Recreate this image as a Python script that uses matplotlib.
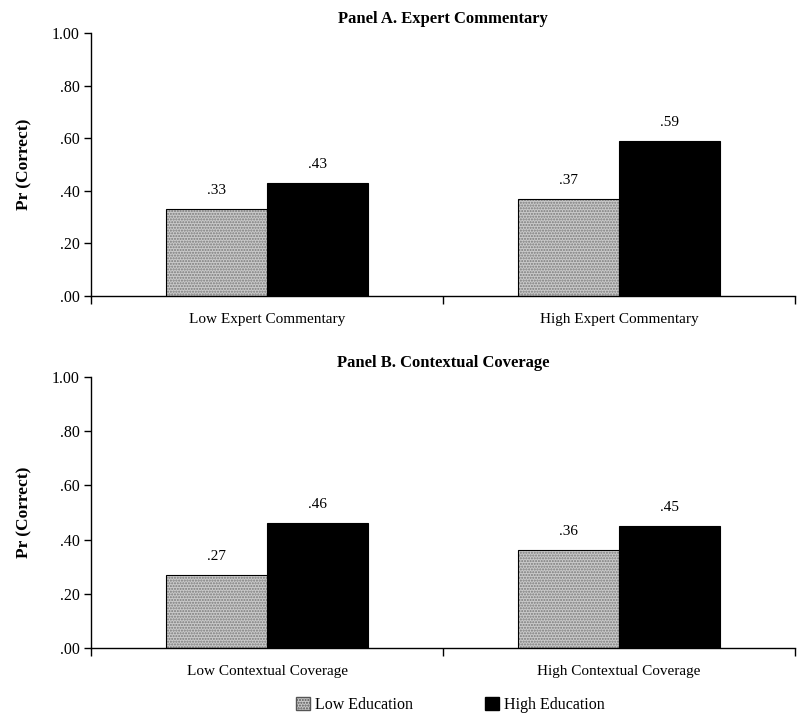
import numpy as np
import matplotlib
matplotlib.use("Agg")
import matplotlib.pyplot as plt
from matplotlib.patches import Patch

plt.rcParams['font.family'] = ['Liberation Serif', 'DejaVu Serif']

panel_titles = ["Panel A. Expert Commentary", "Panel B. Contextual Coverage"]
panel_categories = [["Low Expert Commentary", "High Expert Commentary"],
                    ["Low Contextual Coverage", "High Contextual Coverage"]]
low_edu = [[0.33, 0.37], [0.27, 0.36]]
high_edu = [[0.43, 0.59], [0.46, 0.45]]
series_names = ["Low Education", "High Education"]
yticks = [0.0, 0.2, 0.4, 0.6, 0.8, 1.0]
ytick_labels = [".00", ".20", ".40", ".60", ".80", "1.00"]

low_color = "#cacaca"
high_color = "black"
width = 0.287


def label(v):
    return ("%.2f" % v).lstrip("0")


def draw_panel(ax, title, cats, lows, highs):
    x = np.arange(len(cats))
    # stippled gray bars
    ax.bar(x - width / 2, lows, width, color=low_color, hatch="......",
           edgecolor="#7a7a7a", linewidth=0)
    ax.bar(x - width / 2, lows, width, fill=False, edgecolor="black", linewidth=0.8)
    ax.bar(x + width / 2, highs, width, color=high_color, edgecolor="black", linewidth=0.8)
    for xi, v in zip(x, lows):
        ax.text(xi - width / 2, v + 0.045, label(v), ha="center", va="bottom", fontsize=11)
    for xi, v in zip(x, highs):
        ax.text(xi + width / 2, v + 0.045, label(v), ha="center", va="bottom", fontsize=11)

    ax.set_xlim(-0.5, len(cats) - 0.5)
    ax.set_ylim(0, 1.0)
    ax.set_yticks(yticks)
    ax.set_yticklabels(ytick_labels, fontsize=11.5)
    ax.set_xticks(x)
    ax.set_xticklabels(cats, fontsize=11)
    ax.tick_params(axis="x", which="major", length=0, pad=12)
    ax.set_xticks(np.arange(-0.5, len(cats)), minor=True)
    ax.tick_params(axis="x", which="minor", length=6, direction="out", width=1)
    ax.tick_params(axis="y", length=5, width=1, pad=3)
    for s in ["top", "right"]:
        ax.spines[s].set_visible(False)
    ax.spines["left"].set_linewidth(1)
    ax.spines["bottom"].set_linewidth(1)
    ax.set_ylabel("Pr (Correct)", fontsize=12.5, fontweight="bold", labelpad=14)
    ax.set_title(title, fontsize=12, fontweight="bold", pad=7)


fig = plt.figure(figsize=(8.01, 7.15), dpi=100)
ax1 = fig.add_axes([0.1136, 0.586, 0.879, 0.368])
ax2 = fig.add_axes([0.1136, 0.0937, 0.879, 0.379])

draw_panel(ax1, panel_titles[0], panel_categories[0], low_edu[0], high_edu[0])
draw_panel(ax2, panel_titles[1], panel_categories[1], low_edu[1], high_edu[1])

handles = [Patch(facecolor=low_color, hatch="......", edgecolor="#555555"),
           Patch(facecolor=high_color, edgecolor="black")]
fig.legend(handles, series_names, loc="center", bbox_to_anchor=(0.562, 0.014),
           ncol=2, frameon=False, fontsize=11.5, handlelength=0.9, handleheight=0.9,
           handletextpad=0.3, columnspacing=4.5)

fig.savefig("out.png", dpi=100)
